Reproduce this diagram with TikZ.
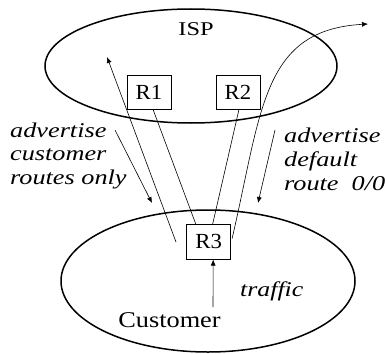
\documentclass[tikz,border=0pt]{standalone}
\usepackage{fontspec}
\setmainfont{Liberation Serif}
\usetikzlibrary{arrows.meta,calc}
\newcommand{\sx}[2]{\scalebox{#1}[1]{#2}}
\tikzset{
  cloud/.style={draw,line width=1.5pt},
  router/.style={draw,line width=0.7pt,minimum width=44pt,minimum height=34pt,inner sep=0pt,font=\fontsize{21.5}{23}\selectfont},
  link/.style={line width=0.6pt},
  arr/.style={line width=0.6pt,-{Latex[length=6pt,width=5pt]}},
  lab/.style={anchor=base west,inner sep=0pt,font=\fontsize{21}{23}\selectfont\itshape},
  big/.style={inner sep=0pt,font=\fontsize{20}{22}\selectfont}
}
\begin{document}
\begin{tikzpicture}[x=1pt,y=-1pt]
\useasboundingbox (0,0) rectangle (385,353);
\draw[cloud] (191,66) ellipse [x radius=146, y radius=57];
\draw[cloud] (208,281) ellipse [x radius=147, y radius=71];
\node[big,anchor=base,font=\fontsize{19.5}{22}\selectfont] (isp) at (196,36) {\sx{1.25}{ISP}};
\node[big,anchor=base,font=\fontsize{22.5}{24}\selectfont] (cust) at (169.5,327) {\sx{1.17}{Customer}};
\node[lab] (traffic) at (240,296) {\sx{1.23}{traffic}};
\node[router] (R1) at (149,92) {\sx{1.06}{R1}};
\node[router] (R2) at (238,92) {\sx{1.06}{R2}};
\node[router,minimum width=44pt,minimum height=35pt] (R3) at (208.7,241.7) {\sx{1.06}{R3}};
\node[lab] (l1) at (10,137) {\sx{1.25}{advertise}};
\node[lab] (l2) at (10,160) {\sx{1.25}{customer}};
\node[lab] (l3) at (10,184) {\sx{1.25}{routes only}};
\node[lab] (r1) at (284,142) {\sx{1.25}{advertise}};
\node[lab] (r2) at (284,166) {\sx{1.25}{default}};
\node[lab] (r3) at (284,190) {\sx{1.25}{route\ \ 0/0}};
\coordinate (lstart) at (176,242);
\coordinate (lend) at (107,57);
\coordinate (rend) at (368,24);
\coordinate (a1) at (115,130);
\coordinate (a2) at (152,203);
\coordinate (b1) at (275,130);
\coordinate (b2) at (258,203);
\coordinate (tr) at (213,307);
\draw[link] ($(R1.south)+(4,0)$) -- ($(R3.north)+(-13,0)$);
\draw[link] ($(R2.south)+(1,0)$) -- ($(R3.north)+(4,0)$);
\draw[arr] (lstart) -- (lend);
\draw[arr] ($(R3.east)+(1,-3)$) .. controls (262,110) and (262,30) .. (rend);
\draw[arr] (a1) -- (a2);
\draw[arr] (b1) -- (b2);
\draw[arr] (tr) -- ($(R3.south)+(4.5,0)$);
\end{tikzpicture}
\end{document}
